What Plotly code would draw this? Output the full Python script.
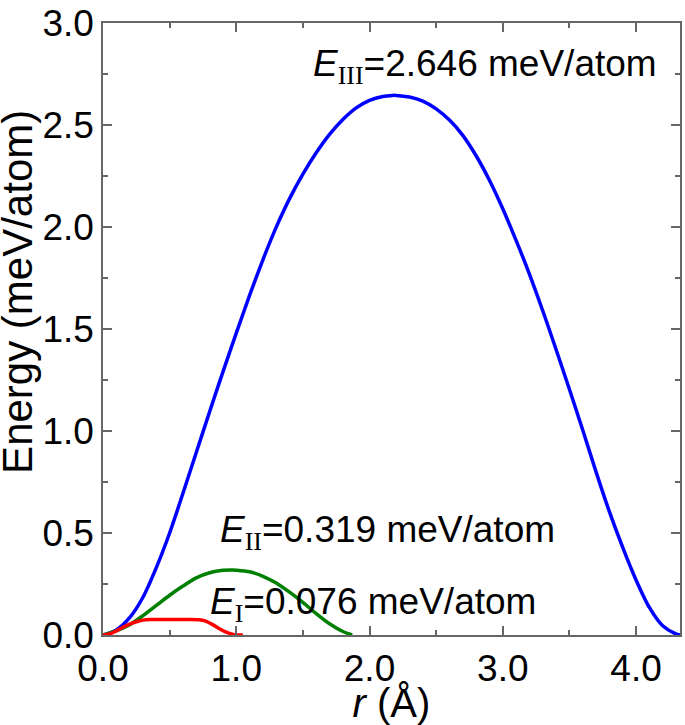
import plotly.graph_objects as go

# Curve III (blue)
r_III = [0.0, 0.1, 0.2, 0.3, 0.4, 0.5, 0.6, 0.7, 0.8, 0.9, 1.0, 1.1, 1.2, 1.3, 1.4, 1.5,
         1.6, 1.7, 1.8, 1.9, 2.0, 2.1, 2.17, 2.2, 2.3, 2.4, 2.5, 2.6, 2.7, 2.8, 2.9, 3.0,
         3.1, 3.2, 3.3, 3.4, 3.5, 3.6, 3.7, 3.8, 3.9, 4.0, 4.1, 4.2, 4.3, 4.33]
E_III = [0.0, 0.025, 0.085, 0.185, 0.33, 0.50, 0.695, 0.895, 1.095, 1.29, 1.48, 1.665,
         1.84, 2.00, 2.14, 2.26, 2.365, 2.455, 2.528, 2.585, 2.622, 2.641, 2.646, 2.646,
         2.638, 2.618, 2.58, 2.525, 2.45, 2.35, 2.23, 2.09, 1.935, 1.77, 1.59, 1.40, 1.205,
         1.005, 0.80, 0.605, 0.43, 0.27, 0.135, 0.045, 0.005, 0.0]

# Curve II (green)
r_II = [0.0, 0.1, 0.2, 0.3, 0.4, 0.5, 0.6, 0.7, 0.8, 0.9, 0.97, 1.0, 1.1, 1.2, 1.3, 1.4,
        1.5, 1.6, 1.7, 1.8, 1.87]
E_II = [0.0, 0.02, 0.05, 0.095, 0.145, 0.195, 0.24, 0.28, 0.305, 0.317, 0.319, 0.318, 0.31,
        0.288, 0.255, 0.21, 0.16, 0.105, 0.055, 0.017, 0.0]

# Curve I (red)
r_I = [0.0, 0.05, 0.1, 0.15, 0.2, 0.25, 0.3, 0.35, 0.45, 0.6, 0.72, 0.77, 0.82, 0.87,
       0.92, 0.97, 1.0, 1.05]
E_I = [0.0, 0.005, 0.02, 0.038, 0.053, 0.065, 0.073, 0.076, 0.076, 0.076, 0.075, 0.068,
       0.052, 0.032, 0.015, 0.004, 0.0, 0.0]

x_ticks = [0.0, 1.0, 2.0, 3.0, 4.0]
y_ticks = [0.0, 0.5, 1.0, 1.5, 2.0, 2.5, 3.0]

# (subscript, value, left x, y)
labels = [
    ("III", "2.646", 1.563, 2.787),
    ("II", "0.319", 0.86, 0.503),
    ("I", "0.076", 0.785, 0.15),
]

SANS = "Liberation Sans, Arial, sans-serif"
SERIF = "Liberation Serif, Times New Roman, serif"
FS = 37
FT = 40
FY = 42

fig = go.Figure()
for x, y, c in [(r_III, E_III, "#0000ff"), (r_II, E_II, "#008000"), (r_I, E_I, "#ff0000")]:
    fig.add_trace(go.Scatter(x=x, y=y, mode="lines",
                             line=dict(color=c, width=3.5, shape="spline", smoothing=0.8),
                             showlegend=False, hoverinfo="skip"))

for sub, val, xa, ya in labels:
    fig.add_annotation(
        x=xa, y=ya, xref="x", yref="y", showarrow=False,
        text=f"<i>E</i><sub><span style='font-family:{SERIF}'>{sub}</span></sub>={val} meV/atom",
        font=dict(family=SANS, size=FS, color="black"), xanchor="left", yanchor="middle")

# y-axis title (placed slightly above the axis centre, as in the reference)
fig.add_annotation(x=-0.148, y=0.56, xref="paper", yref="paper", showarrow=False,
                   text="Energy (meV/atom)", textangle=-90,
                   font=dict(family=SANS, size=FY, color="black"),
                   xanchor="center", yanchor="middle")

axis_common = dict(
    showline=True, linecolor="#666666", linewidth=1.5, mirror="ticks",
    ticks="inside", ticklen=9, tickwidth=1.5, tickcolor="#666666",
    showgrid=False, zeroline=False, tickformat=".1f", ticklabeloverflow="allow",
    tickfont=dict(family=SANS, size=FS, color="black"),
)

fig.update_xaxes(range=[0, 4.33], tickvals=x_ticks, **axis_common,
                 minor=dict(dtick=0.5, tick0=0, ticks="inside", ticklen=5, tickwidth=1.5, tickcolor="#666666"),
                 title=dict(text="<i>r</i> (Å)", font=dict(family=SANS, size=FT, color="black"), standoff=0))
fig.update_yaxes(range=[0, 3.001], tickvals=y_ticks, **axis_common,
                 minor=dict(dtick=0.25, tick0=0, ticks="inside", ticklen=5, tickwidth=1.5, tickcolor="#666666"))

fig.update_layout(width=685, height=725, margin=dict(l=103, r=3, t=15, b=90),
                  plot_bgcolor="white", paper_bgcolor="white")

fig.write_html("out.html", config={"displayModeBar": False},
               post_script="document.body.style.margin='0px';")
